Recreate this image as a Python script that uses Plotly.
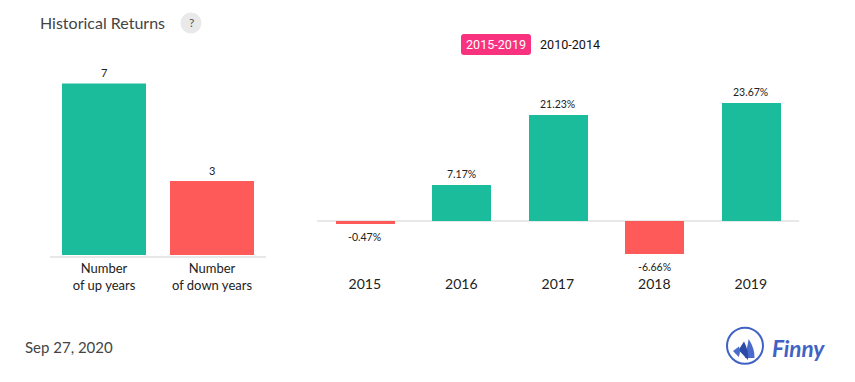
import plotly.graph_objects as go

W, H = 855, 382
up_down_labels = ["Number<br>of up years", "Number<br>of down years"]
up_down_values = [7, 3]
years = ["2015", "2016", "2017", "2018", "2019"]
returns = [-0.47, 7.17, 21.23, -6.66, 23.67]
GREEN, RED = "#1abc9c", "#ff5a5a"
LOGO = "#3f62c4"


def px(x):
    return x / W


def py(y):
    return 1 - y / H


fig = go.Figure()
fig.add_trace(go.Bar(
    x=up_down_labels, y=up_down_values, xaxis="x", yaxis="y",
    marker=dict(color=[GREEN, RED], line_width=0), width=0.7778,
    cliponaxis=False, hoverinfo="skip"))
fig.add_trace(go.Bar(
    x=years, y=returns, xaxis="x2", yaxis="y2",
    marker=dict(color=[GREEN if v >= 0 else RED for v in returns], line_width=0), width=0.61,
    cliponaxis=False, hoverinfo="skip"))

txt = lambda x, y, s, size, color, anchor="left", family="Lato", **k: dict(
    x=px(x), y=py(y), xref="paper", yref="paper", text=s, showarrow=False,
    xanchor=anchor, yanchor="middle", font=dict(family=family, size=size, color=color), **k)

annotations = [
    txt(38, 22.5, "Historical Returns", 16, "#444"),
    txt(191, 23, "?", 12, "#555", "center"),
    txt(496, 45, "2015-2019", 12.6, "#fff", "center", "Roboto"),
    txt(570, 45, "2010-2014", 12.6, "#111", "center", "Roboto"),
    txt(23, 347, "Sep 27, 2020", 15, "#444"),
    txt(770, 348, "<b><i>Finny</i></b>", 22.5, LOGO, "left", "Lato"),
]
for i, v in enumerate(up_down_values):
    annotations.append(dict(x=i, y=v, xref="x", yref="y", text=str(v), showarrow=False,
                            yanchor="middle", yshift=11, font=dict(family="Lato", size=11, color="#222")))
for i, v in enumerate(returns):
    annotations.append(dict(x=i, y=v, xref="x2", yref="y2", text=f"{v:.2f}%", showarrow=False,
                            yanchor="middle", yshift=11 if v >= 0 else -13,
                            font=dict(family="Lato", size=10.5, color="#222")))


def circle(cx, cy, r, **k):
    return dict(type="circle", xref="paper", yref="paper", x0=px(cx - r), x1=px(cx + r),
                y0=py(cy + r), y1=py(cy - r), layer="below", **k)


def sail(a, ctrl, b, c, color):
    d = (f"M{px(a[0])},{py(a[1])} Q{px(ctrl[0])},{py(ctrl[1])} {px(b[0])},{py(b[1])} "
         f"L{px(c[0])},{py(c[1])} Z")
    return dict(type="path", path=d, xref="paper", yref="paper", fillcolor=color, line_width=0)


button_x0, button_x1, button_y0, button_y1, rad = 461, 531, 34, 55, 3
button = ("M{},{} L{},{} Q{},{} {},{} L{},{} Q{},{} {},{} L{},{} Q{},{} {},{} L{},{} Q{},{} {},{} Z").format(
    px(button_x0 + rad), py(button_y0), px(button_x1 - rad), py(button_y0),
    px(button_x1), py(button_y0), px(button_x1), py(button_y0 + rad),
    px(button_x1), py(button_y1 - rad),
    px(button_x1), py(button_y1), px(button_x1 - rad), py(button_y1),
    px(button_x0 + rad), py(button_y1),
    px(button_x0), py(button_y1), px(button_x0), py(button_y1 - rad),
    px(button_x0), py(button_y0 + rad),
    px(button_x0), py(button_y0), px(button_x0 + rad), py(button_y0))

shapes = [
    circle(191, 23, 10.5, fillcolor="#e9e9e9", line_width=0),
    dict(type="path", path=button, xref="paper", yref="paper", fillcolor="#f9327f", line_width=0, layer="below"),
    circle(745, 345.7, 18, fillcolor="rgba(0,0,0,0)", line=dict(color=LOGO, width=2)),
    sail((748.7, 339), (755, 349), (754.5, 358), (745, 358), "#4a6bcc"),
    sail((744, 341.5), (749, 351), (748, 360), (738.5, 350), "#2a4aa8"),
    sail((739, 346.5), (741, 352), (738.7, 357), (733, 351), "#4a6bcc"),
]

fig.update_layout(
    width=W, height=H, margin=dict(l=0, r=0, t=0, b=0, autoexpand=False), showlegend=False,
    paper_bgcolor="white", plot_bgcolor="white", bargap=0,
    annotations=annotations, shapes=shapes,
    font=dict(family="Lato", color="#222"),
    xaxis=dict(domain=[px(50), px(266)], type="category", range=[-0.5, 1.5], showline=True,
               linecolor="#e8e8e8", linewidth=1.5,
               ticks="", tickfont=dict(family="Lato", size=13, color="#222"), fixedrange=True, anchor="y"),
    yaxis=dict(domain=[py(255.7), py(83.4)], range=[0, 7], visible=False, fixedrange=True, anchor="x"),
    xaxis2=dict(domain=[px(316.5), px(799)], type="category", range=[-0.5, 4.5], showline=False, ticks="",
                tickfont=dict(family="Lato", size=14, color="#222"), fixedrange=True, anchor="y2"),
    yaxis2=dict(domain=[py(274), py(82)], range=[-10.57, 27.9], showgrid=False, showticklabels=False,
                zeroline=True, zerolinecolor="#e8e8e8", zerolinewidth=1.5, showline=False, ticks="",
                fixedrange=True, anchor="x2"),
)
fig.write_html("out.html", config=dict(displayModeBar=False),
               post_script="document.body.style.margin='0';")
